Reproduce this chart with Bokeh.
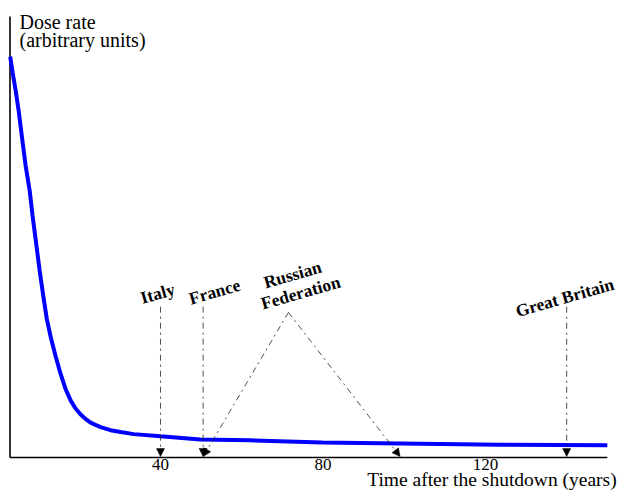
import math
from bokeh.plotting import figure
from bokeh.models import Range1d, Label, Arrow, NormalHead
from bokeh.embed import file_html
from bokeh.resources import INLINE

# Dose-rate decay curve (years after shutdown, arbitrary units)
years = [3.0, 3.6, 4.35, 5.1, 6.0, 6.8, 7.8, 8.5, 9.3, 10.25, 11.2, 12.0, 13.0,
         14.2, 15.4, 16.6, 17.9, 19.1, 20.35, 21.6, 22.8, 24.0, 25.25, 27.7,
         30.2, 33.4, 40.0, 49.8, 62.1, 79.8, 99.0, 123.6, 150.0]
dose = [90.9, 87.3, 83.2, 78.5, 71.9, 66.2, 60.5, 54.9, 49.2, 42.4, 36.3, 31.5, 27.2,
        22.9, 19.0, 15.6, 12.9, 11.1, 9.75, 8.7, 7.9, 7.4, 6.9, 6.2,
        5.8, 5.3, 4.8, 4.1, 3.9, 3.4, 3.2, 2.9, 2.8]

x_ticks = [40, 80, 120]
x_axis_start, x_axis_end = 2.95, 150.0
y_axis_start, y_axis_end = 0.0, 100.0

# Country annotations
countries = ["Italy", "France", "Russian\nFederation", "Great Britain"]
arrow_starts_x = [40, 50.5, 71.5, 71.5, 140]
arrow_starts_y = [34.2, 34.2, 32.9, 32.9, 34.2]
arrow_ends_x = [40, 50.5, 50.5, 99, 140]

FONT = "Liberation Serif"

p = figure(width=619, height=491, output_backend="svg", toolbar_location=None,
           x_range=Range1d(0.615, 153.0), y_range=Range1d(-7.71, 103.63),
           x_axis_type=None, y_axis_type=None, min_border=0)
p.outline_line_color = None
p.background_fill_color = "white"
p.border_fill_color = "white"
p.grid.visible = False

# Axis lines
p.line([x_axis_start, x_axis_end], [y_axis_start, y_axis_start], line_color="black", line_width=1.6)
p.line([x_axis_start, x_axis_start], [y_axis_start, y_axis_end], line_color="black", line_width=1.6)

# Tick labels
for t in x_ticks:
    p.add_layout(Label(x=t, y=-1.6, text=str(t), text_align="center",
                       text_baseline="alphabetic", text_font=FONT,
                       text_font_size="17px", text_color="black"))

# Curve
p.line(years, dose, line_color="#0000ff", line_width=4)

# Arrows
for sx, sy, ex in zip(arrow_starts_x, arrow_starts_y, arrow_ends_x):
    p.add_layout(Arrow(end=NormalHead(size=8, fill_color="black", line_color="black", line_width=0.5),
                       x_start=sx, y_start=sy, x_end=ex, y_end=0.2,
                       line_color="#222222", line_width=0.8, line_dash="dashdot"))

ang = math.radians(16)
bold = dict(angle=ang, text_align="center", text_baseline="middle", text_font=FONT,
            text_font_style="bold", text_font_size="17.5px", text_color="black")
p.add_layout(Label(x=39.3, y=37.2, text=countries[0], **bold))
p.add_layout(Label(x=53.3, y=37.6, text=countries[1], **bold))
rus1, rus2 = countries[2].split("\n")
p.add_layout(Label(x=72.5, y=41.5, text=rus1, **bold))
p.add_layout(Label(x=74.5, y=37.4, text=rus2, **bold))
p.add_layout(Label(x=139.5, y=36.3, text=countries[3], **bold))

# Axis titles
normal = dict(text_baseline="alphabetic", text_font=FONT, text_font_size="20px", text_color="black")
p.add_layout(Label(x=5.29, y=98.76, text="Dose rate", text_align="left", **normal))
p.add_layout(Label(x=5.29, y=94.66, text="(arbitrary units)", text_align="left", **normal))
p.add_layout(Label(x=152.3, y=-5.1, text="Time after the shutdown (years)", text_align="right",
                   text_baseline="alphabetic", text_font=FONT, text_font_size="19.5px",
                   text_color="black"))

open("out.html", "w").write(file_html(p, INLINE))
